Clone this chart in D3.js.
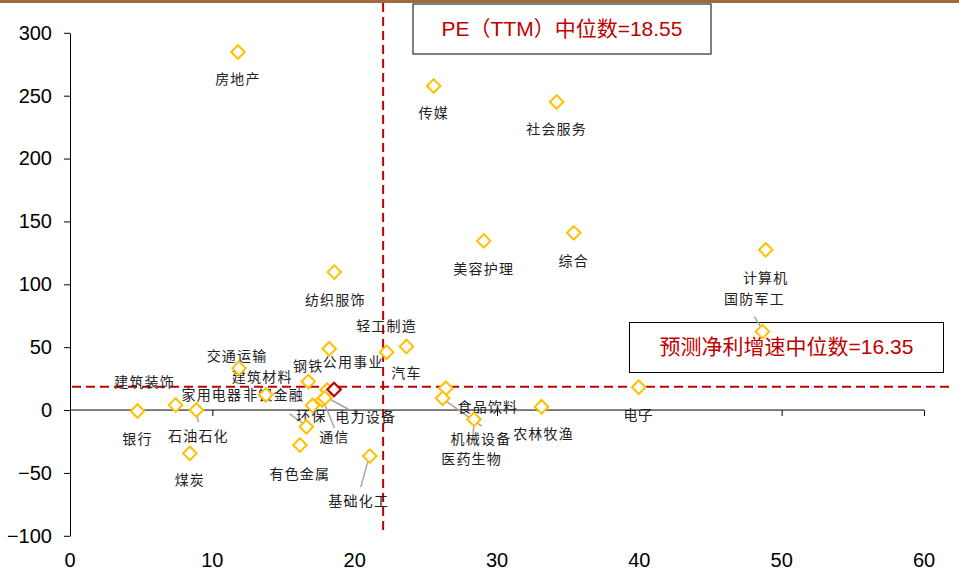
<!DOCTYPE html>
<html>
<head>
<meta charset="utf-8">
<script src="https://cdn.jsdelivr.net/npm/d3@7/dist/d3.min.js"></script>
<style>
  html, body { margin: 0; padding: 0; background: #fff; }
  svg { display: block; }
</style>
</head>
<body>
<svg id="chart" width="959" height="573"></svg>
<script>
// ---------- data ----------
const industries = ["房地产","传媒","社会服务","美容护理","综合","计算机","国防军工","纺织服饰","轻工制造","汽车",
  "公用事业","钢铁","交通运输","建筑装饰","银行","石油石化","煤炭","家用电器","非银金融","建筑材料",
  "环保","通信","电力设备","有色金属","基础化工","食品饮料","医药生物","机械设备","农林牧渔","电子"];
const peTTM = [11.8,25.55,34.19,29.07,35.39,48.88,48.65,18.57,22.24,23.64,
  18.21,16.74,11.88,7.42,4.74,8.88,8.42,13.76,17.04,18.07,
  16.61,17.73,17.9,16.15,21.06,26.41,26.18,28.38,33.13,39.96];
const profitGrowth = [284.7,257.7,245.0,134.5,140.9,127.4,62.4,109.7,46.0,50.5,
  48.7,22.7,33.3,4.0,-0.8,0.0,-34.4,12.1,3.6,15.9,
  -13.3,8.0,9.6,-27.8,-36.6,17.3,9.4,-7.4,2.6,18.1];
const medianPE = 18.55;
const medianGrowth = 16.35;
const guideLineX = 22.0;   // vertical dashed line as drawn
const guideLineY = 18.5;   // horizontal dashed line as drawn
const xTicks = [0,10,20,30,40,50,60];
const yTicks = [-100,-50,0,50,100,150,200,250,300];
const boxTexts = ["PE（TTM）中位数=" + medianPE, "预测净利增速中位数=" + medianGrowth];

// ---------- label layout (pixel offsets from the point) ----------
const labelOffset = {
  "房地产":[0,28],"传媒":[0,28],"社会服务":[0,28],"美容护理":[0,29],"综合":[0,29],"计算机":[0,29],
  "国防军工":[-8,-31],"纺织服饰":[1,29],"轻工制造":[0,-25],"汽车":[0,28],"公用事业":[24,14],
  "钢铁":[0,-14],"交通运输":[-2,-11],"建筑装饰":[-31,-22],"银行":[0,29],"石油石化":[2,27],
  "煤炭":[0,28],"家用电器":[-54,1],"非银金融":[-39,-9],"建筑材料":[-65,-12],"环保":[5,-10],
  "通信":[12,38],"电力设备":[41,20],"有色金属":[0,30],"基础化工":[-11,46],"食品饮料":[42,20],
  "医药生物":[29,62],"机械设备":[7,21],"农林牧渔":[2,28],"电子":[0,29]
};
const leaders = {
  "国防军工":[-8,-15,-2,-5],
  "石油石化":[0,2,2,12],
  "环保":[-17,-13,-1,-2],
  "通信":[12,28,2,3],
  "电力设备":[25,12,3,0],
  "基础化工":[-9,31,-1,2],
  "医药生物":[39,28,2,2],
  "机械设备":[-1,18,0,4]
};

// ---------- drawing ----------
const svg = d3.select("#chart");
const x = d3.scaleLinear().domain([0,60]).range([70,924]);
const y = d3.scaleLinear().domain([-100,300]).range([535.8,32.8]);
const red = "#C00000", gold = "#FFC000";

// top brown strip
svg.append("rect").attr("x",0).attr("y",0).attr("width",959).attr("height",3).attr("fill","#9E6B3E");

// annotation boxes
const boxes = [
  {x0:413, y0:4, w:298, h:50, text:boxTexts[0]},
  {x0:629.5, y0:322.5, w:314, h:50, text:boxTexts[1]}
];
boxes.forEach(b => {
  svg.append("rect").attr("x",b.x0).attr("y",b.y0).attr("width",b.w).attr("height",b.h)
    .attr("fill","#fff").attr("stroke","#000").attr("stroke-width",1);
  svg.append("text").attr("x",b.x0+b.w/2).attr("y",b.y0+b.h/2+1)
    .attr("text-anchor","middle").attr("dominant-baseline","middle")
    .attr("font-family","'Liberation Sans', Arial, 'Noto Sans CJK SC', sans-serif")
    .attr("font-size",21).attr("fill",red).text(b.text);
});

// y axis
const yAxis = d3.axisLeft(y).tickValues(yTicks).tickSize(6).tickSizeOuter(0).tickPadding(12);
const gy = svg.append("g").attr("transform","translate(70,0)").call(yAxis);
gy.selectAll("text").attr("font-family","'Liberation Sans', Arial, sans-serif").attr("font-size",20).attr("fill","#000");
gy.selectAll("line,path").attr("stroke","#000");

// x axis at y=0
const xAxis = d3.axisBottom(x).tickValues(xTicks).tickSize(6).tickSizeOuter(0).tickFormat("");
const gx = svg.append("g").attr("transform",`translate(0,${y(0)})`).call(xAxis);
gx.selectAll("line,path").attr("stroke","#000");
gx.select("path").attr("d",`M${x(0)},0H${x(60)}`);

// x tick labels at the bottom
svg.append("g").selectAll("text").data(xTicks).join("text")
  .attr("x",d=>x(d)).attr("y",562).attr("text-anchor","middle").attr("dominant-baseline","middle")
  .attr("font-family","'Liberation Sans', Arial, sans-serif").attr("font-size",20).attr("fill","#000")
  .text(d=>d);

// dashed guide lines
svg.append("line").attr("x1",x(guideLineX)).attr("x2",x(guideLineX)).attr("y1",3).attr("y2",533)
  .attr("stroke",red).attr("stroke-width",2).attr("stroke-dasharray","9,5");
svg.append("line").attr("x1",x(0)+2).attr("x2",950).attr("y1",y(guideLineY)).attr("y2",y(guideLineY))
  .attr("stroke",red).attr("stroke-width",2).attr("stroke-dasharray","9,5");

const pts = industries.map((n,i)=>({name:n, px:x(peTTM[i]), py:y(profitGrowth[i])}));

// leader lines
svg.append("g").selectAll("line").data(pts.filter(p=>leaders[p.name])).join("line")
  .attr("x1",p=>p.px+leaders[p.name][0]).attr("y1",p=>p.py+leaders[p.name][1])
  .attr("x2",p=>p.px+leaders[p.name][2]).attr("y2",p=>p.py+leaders[p.name][3])
  .attr("stroke","#A6A6A6").attr("stroke-width",1.5);

// labels
svg.append("g").selectAll("text").data(pts).join("text")
  .attr("x",p=>p.px+labelOffset[p.name][0]).attr("y",p=>p.py+labelOffset[p.name][1])
  .attr("text-anchor","middle").attr("dominant-baseline","middle")
  .attr("font-family","'Noto Sans CJK SC', sans-serif").attr("font-size",14)
  .attr("letter-spacing",1.2).attr("fill","#222").text(p=>p.name);

// points
const diamond = d3.symbol().type(d3.symbolSquare).size(92);
svg.append("g").selectAll("path").data(pts).join("path")
  .attr("d",diamond).attr("transform",p=>`translate(${p.px},${p.py}) rotate(45)`)
  .attr("fill","#fff").attr("stroke",gold).attr("stroke-width",2);

// median point
svg.append("path").attr("d",diamond)
  .attr("transform",`translate(${x(medianPE)},${y(medianGrowth)}) rotate(45)`)
  .attr("fill","#fff").attr("stroke",red).attr("stroke-width",2.2);
</script>
</body>
</html>
